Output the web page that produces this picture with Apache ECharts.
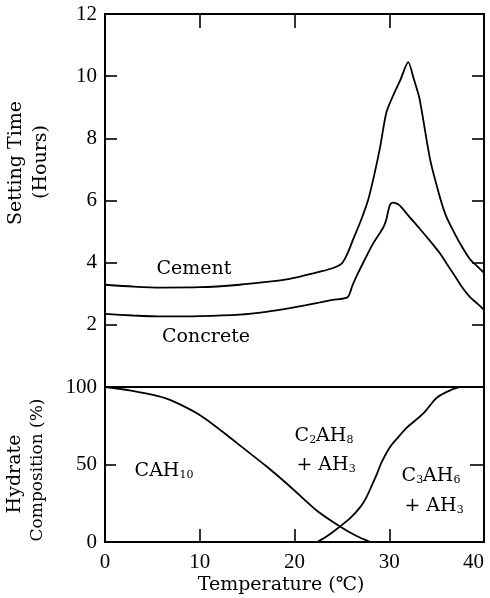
<!DOCTYPE html>
<html><head><meta charset="utf-8">
<script src="https://cdn.jsdelivr.net/npm/echarts@6/dist/echarts.min.js"></script>
<style>html,body{margin:0;padding:0;background:#fff;overflow:hidden}#c{width:490px;height:598px}</style>
</head><body><div id="c"></div>
<script>
// ---- data ----
const tempTicks = [0, 10, 20, 30, 40];
const settingTicks = [0, 2, 4, 6, 8, 10, 12];
const compTicks = [0, 50, 100];

const cement = [[0,3.29],[3,3.23],[6,3.2],[10,3.21],[14.2,3.29],[17,3.38],[19.5,3.48],[22.7,3.71],[24,3.82],[25,3.98],
  [25.6,4.3],[26.2,4.76],[27,5.35],[27.8,6.05],[28.4,6.8],[29,7.66],[29.7,8.84],[30.4,9.37],[31.2,9.9],[32,10.45],
  [32.6,9.9],[33.2,9.27],[34.3,7.34],[35.4,6.05],[36,5.5],[36.8,5.0],[37.6,4.55],[38.5,4.12],[39.3,3.88],[40,3.67]];
const concrete = [[0,2.35],[3,2.3],[6,2.27],[10,2.28],[14.2,2.33],[17,2.42],[19.5,2.54],[22.7,2.72],[24,2.8],[25.6,2.89],
  [26.1,3.25],[26.7,3.66],[27.5,4.15],[28.3,4.62],[29,4.95],[29.4,5.15],[29.7,5.4],[29.9,5.68],[30.1,5.87],[30.4,5.93],
  [30.8,5.9],[31.1,5.84],[32.2,5.45],[33.2,5.1],[34.3,4.7],[35.4,4.28],[36.1,3.95],[36.8,3.63],[37.6,3.25],[38.5,2.9],
  [39.3,2.68],[40,2.48]];
const cah10 = [[0,100],[2.6,97.8],[6.5,92.5],[10,82],[13.5,66],[14.2,62.5],[17,49],[19.5,36],[22.3,20.5],
  [24.8,10],[26.5,4],[28,0]];
const c3ah6 = [[22.4,0],[23.5,4],[24.8,10],[25.9,15.5],[27,23],[27.6,29],[28.2,37],[28.7,44],[29.2,51.5],
  [30.1,61.5],[31,68],[31.8,73.5],[33.6,83],[35,93],[36.3,97.5],[37.5,100],[40,100]];

const curveNames = ['Cement', 'Concrete'];

// ---- chart ----
const W = 'DejaVu Serif', N = 'Liberation Serif';
const black = '#000';
const tick = (len) => ({show:true, inside:true, length:len, lineStyle:{color:black, width:1.6}});
const axLine = {show:true, onZero:false, lineStyle:{color:black, width:2}};
const rich = {
  n:{fontFamily:W, fontSize:19, color:black, lineHeight:24, verticalAlign:'bottom'},
  s:{fontFamily:W, fontSize:11, color:black, lineHeight:24, verticalAlign:'bottom'}
};
function txt(x, y, text, size, rot) {
  return {type:'text', x:x, y:y, rotation:rot||0, z:10,
    style:{text:text, fontFamily:W, fontSize:size, fill:black, align:'center', verticalAlign:'middle'}};
}
function rtxt(x, y, text) {
  return {type:'text', x:x, y:y, z:10,
    style:{text:text, rich:rich, fill:black, align:'center', verticalAlign:'middle'}};
}
const line = (data, xi, yi) => ({type:'line', xAxisIndex:xi, yAxisIndex:yi, data:data, smooth:0.25,
  showSymbol:false, symbol:'none', lineStyle:{color:black, width:1.8}, z:3});

const chart = echarts.init(document.getElementById('c'), null, {renderer:'canvas'});
chart.setOption({
  animation:false,
  backgroundColor:'#fff',
  grid:[
    {left:105, right:6, top:14, height:373, outerBoundsMode:'none', containLabel:false,
     show:true, borderColor:black, borderWidth:2, backgroundColor:'transparent'},
    {left:105, right:6, top:387, height:155, outerBoundsMode:'none', containLabel:false,
     show:true, borderColor:black, borderWidth:2, backgroundColor:'transparent'}
  ],
  xAxis:[
    {gridIndex:0, type:'value', min:tempTicks[0], max:tempTicks[tempTicks.length-1], interval:10, position:'top',
     axisLine:axLine, axisTick:tick(14), axisLabel:{show:false}, splitLine:{show:false}},
    {gridIndex:1, type:'value', min:tempTicks[0], max:tempTicks[tempTicks.length-1], interval:10, position:'bottom',
     axisLine:axLine, axisTick:tick(13),
     axisLabel:{fontFamily:N, fontSize:21, color:black, margin:10, alignMaxLabel:'right'}, splitLine:{show:false}}
  ],
  yAxis:[
    {gridIndex:0, type:'value', min:settingTicks[0], max:settingTicks[settingTicks.length-1], interval:2, position:'left',
     axisLine:axLine, axisTick:tick(12),
     axisLabel:{fontFamily:N, fontSize:21, color:black, margin:8, formatter:v => v === 0 ? '' : String(v)},
     splitLine:{show:false}},
    {gridIndex:0, type:'value', min:settingTicks[0], max:settingTicks[settingTicks.length-1], interval:2, position:'right',
     axisLine:axLine, axisTick:tick(12), axisLabel:{show:false}, splitLine:{show:false}},
    {gridIndex:1, type:'value', min:compTicks[0], max:compTicks[compTicks.length-1], interval:50, position:'left',
     axisLine:axLine, axisTick:tick(11),
     axisLabel:{fontFamily:N, fontSize:21, color:black, margin:8}, splitLine:{show:false}},
    {gridIndex:1, type:'value', min:compTicks[0], max:compTicks[compTicks.length-1], interval:50, position:'right',
     axisLine:axLine, axisTick:tick(14), axisLabel:{show:false}, splitLine:{show:false}}
  ],
  series:[
    line(cement, 0, 0),
    line(concrete, 0, 1),
    line(cah10, 1, 2),
    line(c3ah6, 1, 3)
  ],
  graphic:[
    txt(16, 163, 'Setting Time', 19, Math.PI/2),
    txt(41, 162, '(Hours)', 19, Math.PI/2),
    txt(15, 474, 'Hydrate', 19, Math.PI/2),
    txt(38, 470, 'Composition (%)', 17, Math.PI/2),
    txt(281, 585, 'Temperature (\u2103)', 19),
    txt(194, 269, curveNames[0], 19),
    txt(206, 337, curveNames[1], 19),
    rtxt(164, 469, '{n|CAH}{s|10}'),
    rtxt(324, 434, '{n|C}{s|2}{n|AH}{s|8}'),
    rtxt(326, 463, '{n|+ AH}{s|3}'),
    rtxt(431, 474, '{n|C}{s|3}{n|AH}{s|6}'),
    rtxt(434, 504, '{n|+ AH}{s|3}')
  ]
});
</script>
</body></html>
